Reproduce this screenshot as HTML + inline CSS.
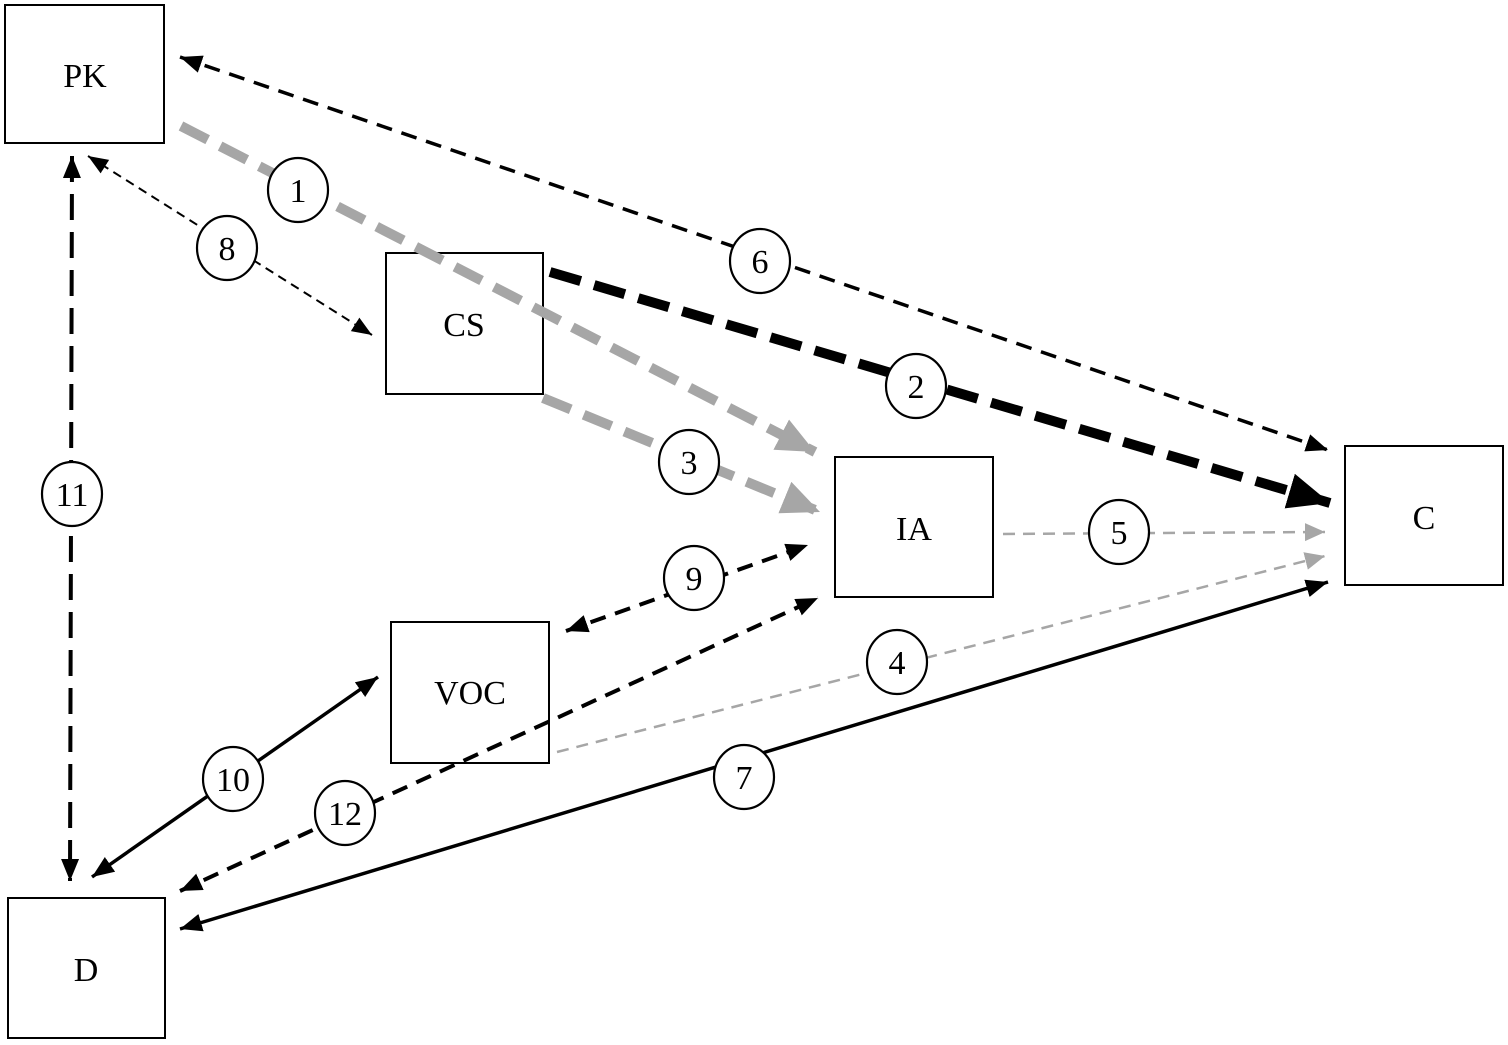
<!DOCTYPE html>
<html><head><meta charset="utf-8"><style>
html,body{margin:0;padding:0;background:#fff;}
svg{display:block;}
text{font-family:"Liberation Serif",serif;}
</style></head><body>
<svg width="1508" height="1045" viewBox="0 0 1508 1045" xmlns="http://www.w3.org/2000/svg">
<defs>
<marker id="mB" markerUnits="userSpaceOnUse" markerWidth="24" markerHeight="20" refX="22" refY="9" orient="auto-start-reverse"><path d="M0,0 L22,9 L0,18 Z" fill="#000"/></marker>
<marker id="mS" markerUnits="userSpaceOnUse" markerWidth="22" markerHeight="18" refX="20" refY="8" orient="auto-start-reverse"><path d="M0,0 L20,8 L0,16 Z" fill="#000"/></marker>
<marker id="mBig" markerUnits="userSpaceOnUse" markerWidth="44" markerHeight="38" refX="42" refY="18" orient="auto"><path d="M0,0 L42,18 L0,36 Z" fill="#000"/></marker>
<marker id="mG" markerUnits="userSpaceOnUse" markerWidth="40" markerHeight="36" refX="38" refY="17" orient="auto"><path d="M0,0 L38,17 L0,34 Z" fill="#a6a6a6"/></marker>
<marker id="mGs" markerUnits="userSpaceOnUse" markerWidth="22" markerHeight="20" refX="20" refY="9" orient="auto"><path d="M0,0 L20,9 L0,18 Z" fill="#a6a6a6"/></marker>
</defs>
<g fill="none" stroke="#000" stroke-width="2">
<rect x="5" y="5" width="159" height="138"/>
<rect x="386" y="253" width="157" height="141"/>
<rect x="835" y="457" width="158" height="140"/>
<rect x="1345" y="446" width="158" height="139"/>
<rect x="391" y="622" width="158" height="141"/>
<rect x="8" y="898" width="157" height="140"/>
</g>
<g fill="none">
<line x1="180" y1="57" x2="1328" y2="450" stroke="#000" stroke-width="3.5" stroke-dasharray="16,10" marker-start="url(#mB)" marker-end="url(#mB)"/>
<line x1="181" y1="126" x2="815" y2="452" stroke="#a6a6a6" stroke-width="10" stroke-dasharray="30,14" marker-end="url(#mG)"/>
<line x1="543" y1="398" x2="820" y2="512" stroke="#a6a6a6" stroke-width="10" stroke-dasharray="30,14" marker-end="url(#mG)"/>
<line x1="550" y1="272" x2="1330" y2="503" stroke="#000" stroke-width="10" stroke-dasharray="32,14" marker-end="url(#mBig)"/>
<line x1="88" y1="156" x2="372" y2="335" stroke="#000" stroke-width="2" stroke-dasharray="9,6" marker-start="url(#mS)" marker-end="url(#mS)"/>
<line x1="72" y1="156" x2="70" y2="881" stroke="#000" stroke-width="4" stroke-dasharray="26,12" marker-start="url(#mB)" marker-end="url(#mB)"/>
<line x1="1003" y1="534" x2="1325" y2="532" stroke="#a6a6a6" stroke-width="2.5" stroke-dasharray="12,8" marker-end="url(#mGs)"/>
<line x1="557" y1="752" x2="1325" y2="556" stroke="#a6a6a6" stroke-width="2.5" stroke-dasharray="12,8" marker-end="url(#mGs)"/>
<line x1="180" y1="929" x2="1328" y2="582" stroke="#000" stroke-width="3.5" marker-start="url(#mB)" marker-end="url(#mB)"/>
<line x1="566" y1="631" x2="808" y2="545" stroke="#000" stroke-width="4" stroke-dasharray="16,10" marker-start="url(#mB)" marker-end="url(#mB)"/>
<line x1="180" y1="891" x2="818" y2="598" stroke="#000" stroke-width="4" stroke-dasharray="16,10" marker-start="url(#mB)" marker-end="url(#mB)"/>
<line x1="92" y1="877" x2="378" y2="677" stroke="#000" stroke-width="3.5" marker-start="url(#mB)" marker-end="url(#mB)"/>
</g>
<g font-size="34" text-anchor="middle" fill="#000">
<text x="85" y="87">PK</text>
<text x="464" y="336">CS</text>
<text x="914" y="540">IA</text>
<text x="1424" y="529">C</text>
<text x="470" y="704">VOC</text>
<text x="86" y="981">D</text>
</g>
<g fill="#fff" stroke="#000" stroke-width="2.2">
<ellipse cx="298" cy="190" rx="30" ry="32"/>
<ellipse cx="227" cy="248" rx="30" ry="32"/>
<ellipse cx="760" cy="261" rx="30" ry="32"/>
<ellipse cx="916" cy="386" rx="30" ry="32"/>
<ellipse cx="689" cy="462" rx="30" ry="32"/>
<ellipse cx="1119" cy="532" rx="30" ry="32"/>
<ellipse cx="694" cy="578" rx="30" ry="32"/>
<ellipse cx="897" cy="662" rx="30" ry="32"/>
<ellipse cx="744" cy="777" rx="30" ry="32"/>
<ellipse cx="233" cy="779" rx="30" ry="32"/>
<ellipse cx="345" cy="813" rx="30" ry="32"/>
<ellipse cx="72" cy="494" rx="30" ry="32"/>
</g>
<g font-size="34" text-anchor="middle" fill="#000">
<text x="298" y="202">1</text>
<text x="227" y="260">8</text>
<text x="760" y="273">6</text>
<text x="916" y="398">2</text>
<text x="689" y="474">3</text>
<text x="1119" y="544">5</text>
<text x="694" y="590">9</text>
<text x="897" y="674">4</text>
<text x="744" y="789">7</text>
<text x="233" y="791">10</text>
<text x="345" y="825">12</text>
<text x="72" y="506">11</text>
</g>
</svg>
</body></html>
